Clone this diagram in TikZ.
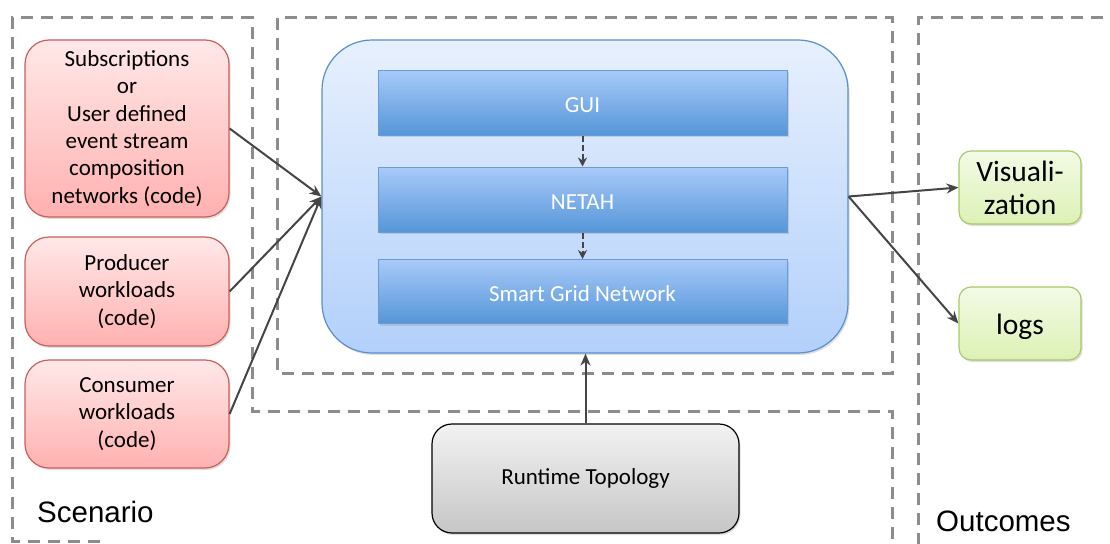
\documentclass[tikz,border=0pt]{standalone}
\usepackage{fontspec}
\setmainfont{Carlito}
\newfontfamily\labelfont{Liberation Sans}
\usetikzlibrary{arrows.meta,shadows}
\definecolor{redborder}{HTML}{C9605C}
\definecolor{redtop}{HTML}{FFE8E8}
\definecolor{redbot}{HTML}{FFB1B0}
\definecolor{mainborder}{HTML}{5A8FCB}
\definecolor{maintop}{HTML}{E7F0FD}
\definecolor{mainbot}{HTML}{B2D0FB}
\definecolor{bartop}{HTML}{A8CAF9}
\definecolor{barbot}{HTML}{5596D8}
\definecolor{barborder}{HTML}{6A9BD4}
\definecolor{greenborder}{HTML}{A8C86A}
\definecolor{greentop}{HTML}{F3FBE6}
\definecolor{greenbot}{HTML}{DCF1B5}
\definecolor{greytop}{HTML}{F2F2F2}
\definecolor{greybot}{HTML}{C6C6C6}
\definecolor{dashgrey}{HTML}{8C8C8C}
\definecolor{arrowgrey}{HTML}{454545}
\tikzset{
  region/.style={draw=dashgrey, line width=3pt, dash pattern=on 12pt off 8pt},
  box/.style={rounded corners=#1, inner sep=0pt, align=center,
    drop shadow={shadow xshift=1.5pt, shadow yshift=-2pt, opacity=0.25}},
  lowertext/.style={execute at begin node={\rule{0pt}{#1}}},
  redbox/.style={box=24pt, draw=redborder, line width=1.2pt, top color=redtop, bottom color=redbot,
    minimum width=204pt, font=\fontsize{23}{27.4}\selectfont, lowertext=31pt},
  mainbox/.style={box=50pt, draw=mainborder, line width=1.2pt, top color=maintop, bottom color=mainbot,
    minimum width=526pt, minimum height=313pt},
  barbox/.style={draw=barborder, line width=1pt, top color=bartop, bottom color=barbot,
    minimum width=409pt, minimum height=65pt, text=white, font=\fontsize{23}{27}\selectfont,
    drop shadow={shadow xshift=1.5pt, shadow yshift=-2pt, opacity=0.25}, lowertext=20pt},
  greenbox/.style={box=12pt, draw=greenborder, line width=1.2pt, top color=greentop, bottom color=greenbot,
    minimum width=122pt, minimum height=73pt, font=\fontsize{29.5}{33}\selectfont, lowertext=27pt},
  greybox/.style={box=20pt, draw=black, line width=1.2pt, top color=greytop, bottom color=greybot,
    minimum width=307pt, minimum height=109pt, font=\fontsize{23}{27}\selectfont},
  conn/.style={draw=arrowgrey, line width=2pt, -{Stealth[length=12pt,width=10pt]}},
  dconn/.style={draw=arrowgrey, line width=2pt, dash pattern=on 6pt off 3pt, -{Stealth[length=9pt,width=9pt]}},
  regionlabel/.style={font=\labelfont\fontsize{29.5}{33}\selectfont, anchor=base west, inner sep=0pt}
}
\begin{document}
\begin{tikzpicture}[x=1pt,y=-1pt]
\useasboundingbox[fill=white] (0,0) rectangle (1110,543);
% regions
\draw[region] (100,541) -- (12,541) -- (12,18) -- (252,18) -- (252,411) -- (892,411) -- (892,545);
\draw[region] (277,18) rectangle (892,373);
\draw[region] (918,545) -- (918,18) -- (1112,18);
\node[regionlabel] (scen) at (37,522) {Scenario};
\node[regionlabel] (outc) at (936,531) {Outcomes};
% red boxes
\node[redbox, minimum height=177pt] (sub) at (127,128.5) {Subscriptions\\or\\User defined\\event stream\\composition\\networks (code)};
\node[redbox, minimum height=109pt] (prod) at (127,291.5) {Producer\\workloads\\(code)};
\node[redbox, minimum height=108pt] (cons) at (127,414) {Consumer\\workloads\\(code)};
% main
\node[mainbox] (main) at (585,196.5) {};
\node[barbox] (gui) at (582.5,102.5) {GUI};
\node[barbox] (netah) at (582.5,199.5) {NETAH};
\node[barbox, minimum height=64pt] (sgn) at (582.5,291.5) {Smart Grid Network};
% outcomes
\node[greenbox] (vis) at (1020,187.5) {Visuali-\\zation};
\node[greenbox] (logs) at (1020,323.5) {logs};
% runtime
\node[greybox] (rt) at (585.5,478.5) {Runtime Topology};
% connectors
\draw[conn] (sub.east) -- (main.west);
\draw[conn] (prod.east) -- (main.west);
\draw[conn] (cons.east) -- (main.west);
\draw[conn] (main.east) -- (vis.west);
\draw[conn] (main.east) -- (logs.west);
\draw[conn] (rt.north) -- (rt.north |- main.south);
\draw[dconn] (gui.south) -- (netah.north);
\draw[dconn] (netah.south) -- (sgn.north);
\end{tikzpicture}
\end{document}
